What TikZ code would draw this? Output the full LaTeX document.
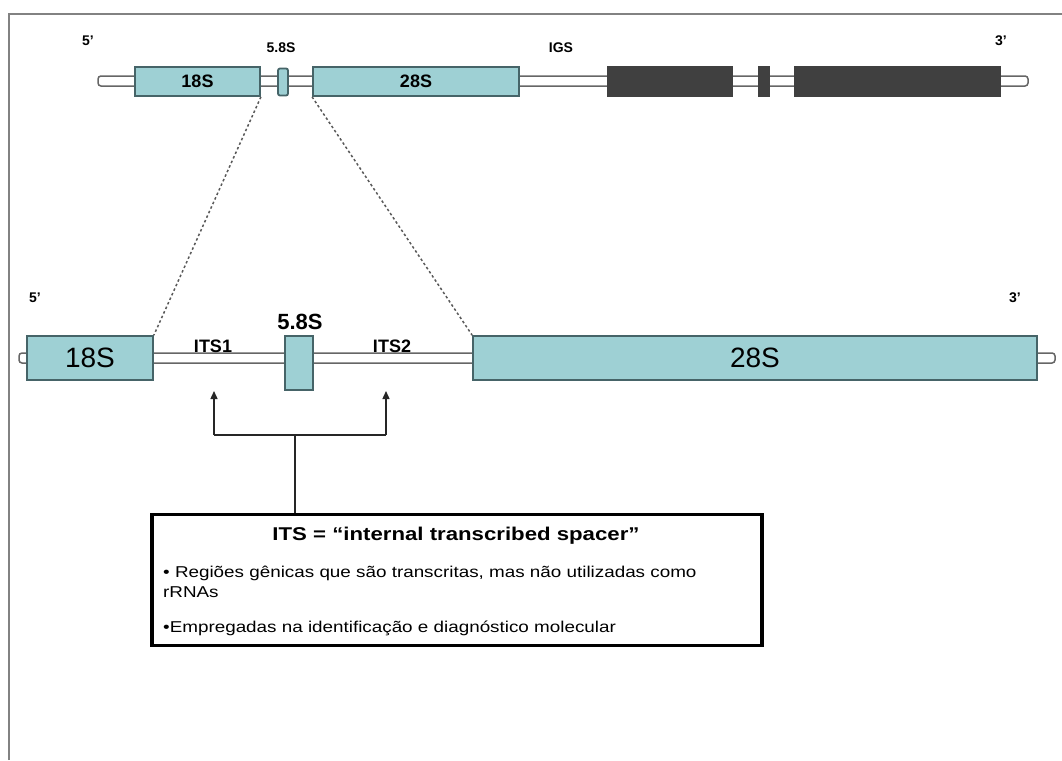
\documentclass[tikz,border=0pt]{standalone}
\usepackage{fontspec}
\setmainfont{Liberation Sans}
\newfontfamily\widefont[FakeStretch=1.2]{Liberation Sans}
\usetikzlibrary{arrows.meta}
\definecolor{genefill}{RGB}{158,208,212}
\definecolor{geneedge}{RGB}{70,100,104}
\definecolor{darkgene}{RGB}{64,64,64}
\definecolor{framegray}{RGB}{130,130,130}
\begin{document}
\begin{tikzpicture}[x=1pt,y=-1pt,
  gene/.style={draw=geneedge,fill=genefill,line width=1.8pt,inner sep=0pt,rectangle},
  dgene/.style={draw=black!75,fill=darkgene,line width=1.8pt,inner sep=0pt,rectangle},
  bar/.style={draw=black!60,fill=white,line width=1.5pt,rounded corners=3pt},
  smalllbl/.style={font=\bfseries\fontsize{14}{16}\selectfont,inner sep=0pt},
  midlbl/.style={font=\bfseries\fontsize{18}{20}\selectfont,inner sep=0pt},
  zoomline/.style={draw=black!65,line width=1.5pt,dash pattern=on 2.5pt off 2.5pt},
  conn/.style={draw=black!85,line width=1.4pt},
  tip/.style={-{Triangle[width=7pt,length=8pt]}}]
\useasboundingbox (0,0) rectangle (1062,760);
\fill[white] (0,0) rectangle (1062,760);
% frame
\draw[framegray,line width=2.5pt] (9,760) -- (9,14) -- (1062,14);
% ---------- top row ----------
\draw[bar] (98,76) rectangle (1028,86);
\node[gene,minimum width=125pt,minimum height=29pt,font=\bfseries\fontsize{18}{20}\selectfont] (t18) at (197.5,81.5) {18S};
\node[gene,minimum width=10pt,minimum height=27pt,rounded corners=2pt] (t58) at (283,82) {};
\node[gene,minimum width=206pt,minimum height=29pt,font=\bfseries\fontsize{18}{20}\selectfont] (t28) at (416,81.5) {28S};
\node[dgene,minimum width=124pt,minimum height=29pt] (d1) at (670,81.5) {};
\node[dgene,minimum width=10pt,minimum height=29pt] (d2) at (764,81.5) {};
\node[dgene,minimum width=205pt,minimum height=29pt] (d3) at (897.5,81.5) {};
\node[smalllbl] (p5a) at (88,41) {5'};
\node[smalllbl] (l58a) at (281,48) {5.8S};
\node[smalllbl] (ligs) at (561,48) {IGS};
\node[smalllbl] (p3a) at (1001,41) {3'};
% ---------- bottom row ----------
\draw[bar] (19,353) rectangle (1055,363);
\node[gene,minimum width=126pt,minimum height=44pt,font=\fontsize{28}{30}\selectfont] (b18) at (90,358) {18S};
\node[gene,minimum width=28pt,minimum height=54pt] (b58) at (299,363) {};
\node[gene,minimum width=564pt,minimum height=44pt,font=\fontsize{28}{30}\selectfont] (b28) at (755,358) {28S};
\node[smalllbl] (p5b) at (35,298) {5'};
\node[smalllbl] (p3b) at (1015,298) {3'};
\node[font=\bfseries\fontsize{22}{24}\selectfont,inner sep=0pt] (l58b) at (300,322) {5.8S};
\node[midlbl] (its1) at (213,346) {ITS1};
\node[midlbl] (its2) at (392,346) {ITS2};
% zoom lines
\draw[zoomline] (t18.south east) -- (b18.north east);
\draw[zoomline] (t28.south west) -- (b28.north west);
% ---------- ITS box ----------
\node[draw=black,line width=3.5pt,minimum width=610pt,minimum height=131pt,inner sep=0pt] (itsbox) at (457,580) {};
\node[font=\widefont\bfseries\fontsize{18.5}{20}\selectfont,inner sep=0pt] (ttl) at (456,536) {ITS = “internal transcribed spacer”};
\node[anchor=west,align=left,font=\widefont\fontsize{15.7}{20}\selectfont,inner sep=0pt] (bul1) at (163,582) {• Regiões gênicas que são transcritas, mas não utilizadas como\\rRNAs};
\node[anchor=west,font=\widefont\fontsize{15.7}{18}\selectfont,inner sep=0pt] (bul2) at (163,628) {•Empregadas na identificação e diagnóstico molecular};
% arrows
\coordinate (a1) at (214,391);
\coordinate (a2) at (386,391);
\coordinate (h1) at (214,435);
\coordinate (h2) at (386,435);
\coordinate (j) at (295,435);
\draw[conn,tip] (h1) -- (a1);
\draw[conn,tip] (h2) -- (a2);
\draw[conn] (h1) -- (h2);
\draw[conn] (j) -- (j |- itsbox.north);
\end{tikzpicture}
\end{document}
